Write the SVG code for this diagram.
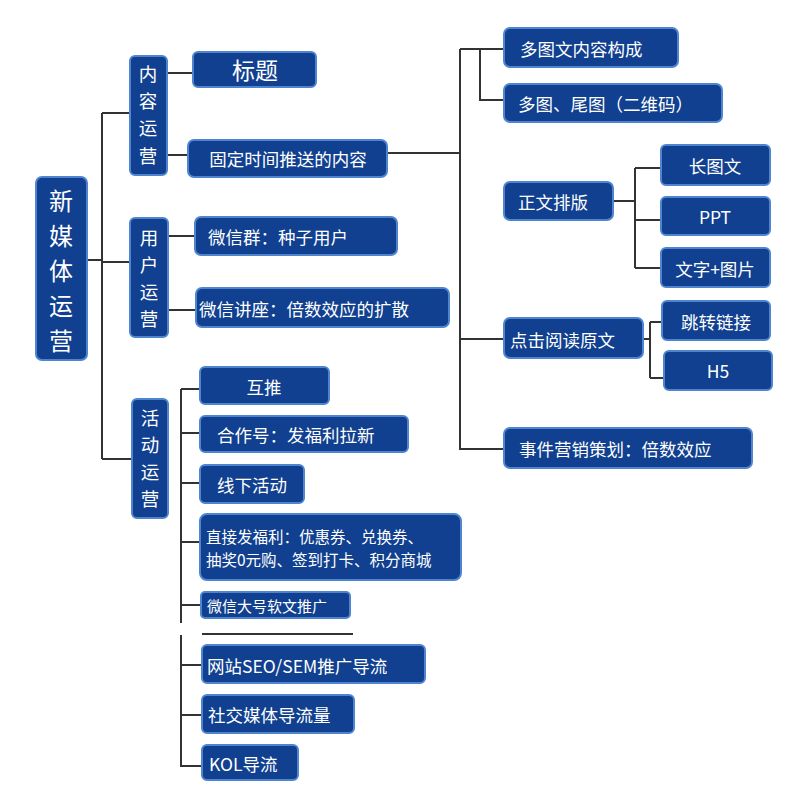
<svg xmlns="http://www.w3.org/2000/svg" width="800" height="791" viewBox="0 0 800 791">
<style>
.b{fill:#10408f;stroke:#4f84cf;stroke-width:2}
.t{fill:#fff;font-family:"Noto Sans CJK SC","Liberation Sans",sans-serif;font-size:17.5px;dominant-baseline:central}
.c{text-anchor:middle}
.v{font-size:18.5px}
.l{fill:none;stroke:#333;stroke-width:2}
</style>
<rect width="800" height="791" fill="#fff"/>
<g id="connectors" class="l">
<path d="M87 260H102M102 113V459M102 113H130M102 262H130M102 459H132"/>
<path d="M167 73H193M167 155H188M168 236H195M168 310H196"/>
<path d="M181 389V623M181 389H200M181 433H200M181 483H200M181 542H200M181 605H201"/>
<path d="M181 635V767M181 665H202M181 715H202M181 766H202"/>
<path d="M202 634H353"/>
<path d="M387 153H460M460 49V450M460 49H504M480 49V100H504M460 339H504M460 449H504"/>
<path d="M613 201H635M635 168V268M635 168H661M635 220H661M635 268H661"/>
<path d="M643 339H650M650 322V378M650 322H662M650 378H664"/>
</g>
<g id="root"><rect class="b" x="36" y="177" width="51" height="183" rx="6"/>
<text class="t c" style="font-size:24px"><tspan x="61" y="199">新</tspan><tspan x="61" y="234">媒</tspan><tspan x="61" y="269">体</tspan><tspan x="61" y="304">运</tspan><tspan x="61" y="339">营</tspan></text></g>
<g id="n-content"><rect class="b" x="130" y="56" width="37" height="119" rx="5"/>
<text class="t c v"><tspan x="148" y="73">内</tspan><tspan x="148" y="100">容</tspan><tspan x="148" y="127">运</tspan><tspan x="148" y="155">营</tspan></text></g>
<g id="n-user"><rect class="b" x="130" y="218" width="38" height="119" rx="5"/>
<text class="t c v"><tspan x="149" y="237">用</tspan><tspan x="149" y="264">户</tspan><tspan x="149" y="291">运</tspan><tspan x="149" y="318">营</tspan></text></g>
<g id="n-act"><rect class="b" x="132" y="399" width="36" height="119" rx="5"/>
<text class="t c v"><tspan x="150" y="417">活</tspan><tspan x="150" y="444">动</tspan><tspan x="150" y="471">运</tspan><tspan x="150" y="498">营</tspan></text></g>
<g id="n1"><rect class="b" x="193" y="52" width="123" height="35" rx="5"/><text class="t c" x="255" y="69" style="font-size:23px">标题</text></g>
<g id="n2"><rect class="b" x="188" y="140" width="199" height="37" rx="6"/><text class="t c" x="288" y="158">固定时间推送的内容</text></g>
<g id="n3"><rect class="b" x="195" y="217" width="202" height="38" rx="6"/><text class="t" x="208" y="236">微信群：种子用户</text></g>
<g id="n4"><rect class="b" x="196" y="288" width="253" height="39" rx="6"/><text class="t" x="199" y="308">微信讲座：倍数效应的扩散</text></g>
<g id="n5"><rect class="b" x="200" y="367" width="129" height="37" rx="5"/><text class="t c" x="264" y="386">互推</text></g>
<g id="n6"><rect class="b" x="200" y="416" width="208" height="36" rx="5"/><text class="t" x="217" y="434">合作号：发福利拉新</text></g>
<g id="n7"><rect class="b" x="200" y="465" width="104" height="38" rx="5"/><text class="t" x="217" y="484">线下活动</text></g>
<g id="n8"><rect class="b" x="200" y="514" width="261" height="66" rx="7"/><text class="t" style="font-size:15.5px"><tspan x="206" y="536">直接发福利：优惠券、兑换券、</tspan><tspan x="206" y="559">抽奖0元购、签到打卡、积分商城</tspan></text></g>
<g id="n9"><rect class="b" x="201" y="592" width="149" height="26" rx="4"/><text class="t" x="207" y="605" style="font-size:15px">微信大号软文推广</text></g>
<g id="n10"><rect class="b" x="202" y="645" width="223" height="38" rx="5"/><text class="t" x="207" y="665">网站SEO/SEM推广导流</text></g>
<g id="n11"><rect class="b" x="202" y="695" width="152" height="38" rx="5"/><text class="t" x="208" y="714">社交媒体导流量</text></g>
<g id="n12"><rect class="b" x="202" y="745" width="96" height="35" rx="5"/><text class="t" x="209" y="763">KOL导流</text></g>
<g id="r1"><rect class="b" x="504" y="28" width="174" height="39" rx="6"/><text class="t" x="520" y="48">多图文内容构成</text></g>
<g id="r2"><rect class="b" x="504" y="84" width="218" height="38" rx="6"/><text class="t" x="518" y="103">多图、尾图（二维码）</text></g>
<g id="r3"><rect class="b" x="504" y="182" width="109" height="38" rx="6"/><text class="t" x="518" y="201">正文排版</text></g>
<g id="r4"><rect class="b" x="661" y="145" width="109" height="40" rx="5"/><text class="t c" x="715" y="165">长图文</text></g>
<g id="r5"><rect class="b" x="661" y="197" width="109" height="38" rx="5"/><text class="t c" x="715" y="216">PPT</text></g>
<g id="r6"><rect class="b" x="661" y="248" width="109" height="39" rx="5"/><text class="t c" x="715" y="268">文字+图片</text></g>
<g id="r7"><rect class="b" x="504" y="318" width="139" height="40" rx="6"/><text class="t" x="510" y="339">点击阅读原文</text></g>
<g id="r8"><rect class="b" x="662" y="301" width="108" height="39" rx="5"/><text class="t c" x="716" y="321">跳转链接</text></g>
<g id="r9"><rect class="b" x="664" y="351" width="108" height="39" rx="5"/><text class="t c" x="718" y="370">H5</text></g>
<g id="r10"><rect class="b" x="504" y="428" width="248" height="40" rx="6"/><text class="t" x="519" y="448">事件营销策划：倍数效应</text></g>
</svg>
